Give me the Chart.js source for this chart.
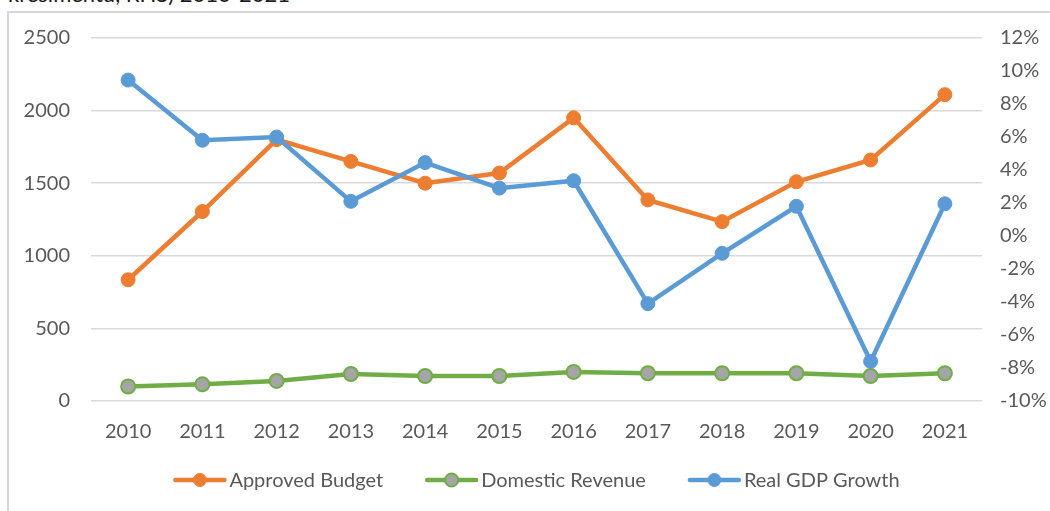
<!DOCTYPE html>
<html>
<head>
<meta charset="utf-8">
<script src="https://cdn.jsdelivr.net/npm/chart.js@4.4.0/dist/chart.umd.min.js"></script>
<style>
  html, body { margin: 0; padding: 0; background: #fff; overflow: hidden; }
  body { width: 1050px; height: 511px; position: relative; }
  .frame { position: absolute; left: 7px; top: 11px; width: 1100px; height: 600px;
           border: 2px solid #d9d9d9; box-sizing: border-box; }
  .title { position: absolute; left: 8px; top: -17px; font: 22px/22px Lato, sans-serif;
           color: #1a1a1a; white-space: nowrap; }
  canvas { position: absolute; left: 0; top: 0; }
</style>
</head>
<body>
<div class="frame"></div>
<div class="title">kresimentu, RHS) 2010-2021</div>
<canvas id="chart" width="1050" height="511"></canvas>
<script>
const years = ['2010', '2011', '2012', '2013', '2014', '2015', '2016', '2017', '2018', '2019', '2020', '2021'];
const approvedBudget = [835, 1305, 1800, 1650, 1500, 1570, 1950, 1385, 1235, 1510, 1660, 2110];
const domesticRevenue = [100, 115, 138, 186, 172, 172, 200, 191, 191, 191, 172, 191];
const realGdpGrowth = [9.45, 5.8, 6.0, 2.1, 4.45, 2.9, 3.35, -4.1, -1.05, 1.8, -7.6, 1.95];
const leftTicks = [0, 500, 1000, 1500, 2000, 2500];
const rightTicks = [-10, -8, -6, -4, -2, 0, 2, 4, 6, 8, 10, 12];

const orange = '#ED7D31';
const green = '#70AD47';
const grey = '#A5A5A5';
const blue = '#5B9BD5';
const textColor = '#595959';
const font = 'Lato, sans-serif';

// legend drawn under the axis: a line sample with a marker, then the label
const legendPlugin = {
  id: 'excelLegend',
  afterDraw(chart) {
    const ctx = chart.ctx;
    const sampleW = 53, gap = 3, spacing = 42, y = 480;
    ctx.save();
    ctx.font = '20px ' + font;
    const items = chart.data.datasets.map(ds => ({ ds, w: ctx.measureText(ds.label).width }));
    const total = items.reduce((s, it) => s + sampleW + gap + it.w, 0) + spacing * (items.length - 1);
    const area = chart.chartArea;
    let x = (area.left + area.right) / 2 - total / 2;
    items.forEach(it => {
      ctx.strokeStyle = it.ds.borderColor;
      ctx.lineWidth = 4.5;
      ctx.lineCap = 'round';
      ctx.beginPath();
      ctx.moveTo(x + 2, y);
      ctx.lineTo(x + sampleW - 2, y);
      ctx.stroke();
      ctx.beginPath();
      ctx.arc(x + sampleW / 2, y, 6.5, 0, Math.PI * 2);
      ctx.fillStyle = it.ds.pointBackgroundColor;
      ctx.fill();
      ctx.lineWidth = it.ds.pointBorderWidth;
      ctx.strokeStyle = it.ds.pointBorderColor;
      ctx.stroke();
      ctx.fillStyle = textColor;
      ctx.textBaseline = 'middle';
      ctx.fillText(it.ds.label, x + sampleW + gap, y + 1);
      x += sampleW + gap + it.w + spacing;
    });
    ctx.restore();
  }
};

new Chart(document.getElementById('chart'), {
  type: 'line',
  data: {
    labels: years,
    datasets: [
      {
        label: 'Approved Budget',
        data: approvedBudget,
        yAxisID: 'y',
        order: 1,
        borderColor: orange,
        borderWidth: 4.5,
        pointBackgroundColor: orange,
        pointBorderColor: orange,
        pointBorderWidth: 1,
        pointRadius: 7,
      },
      {
        label: 'Domestic Revenue',
        data: domesticRevenue,
        yAxisID: 'y',
        order: 2,
        borderColor: green,
        borderWidth: 4.5,
        pointBackgroundColor: grey,
        pointBorderColor: green,
        pointBorderWidth: 2,
        pointRadius: 7,
      },
      {
        label: 'Real GDP Growth',
        data: realGdpGrowth,
        yAxisID: 'y1',
        order: 0,
        borderColor: blue,
        borderWidth: 4.5,
        pointBackgroundColor: blue,
        pointBorderColor: blue,
        pointBorderWidth: 1,
        pointRadius: 7,
      },
    ],
  },
  options: {
    responsive: false,
    animation: false,
    layout: { padding: { top: 38, bottom: 55, left: 0, right: 0 } },
    plugins: { legend: { display: false }, tooltip: { enabled: false } },
    scales: {
      x: {
        offset: true,
        grid: { display: false },
        border: { display: false },
        ticks: { color: textColor, font: { family: font, size: 20 }, padding: 11, maxRotation: 0 },
        afterFit(scale) { scale.height = 55; },
      },
      y: {
        position: 'left',
        min: leftTicks[0],
        max: leftTicks[leftTicks.length - 1],
        afterBuildTicks(scale) { scale.ticks = leftTicks.map(v => ({ value: v })); },
        grid: { color: '#d9d9d9', lineWidth: 1.5, drawTicks: false },
        border: { display: false },
        ticks: { color: textColor, font: { family: font, size: 20 }, padding: 21, callback: v => String(v) },
        afterFit(scale) { scale.width = 91; },
      },
      y1: {
        position: 'right',
        min: rightTicks[0],
        max: rightTicks[rightTicks.length - 1],
        afterBuildTicks(scale) { scale.ticks = rightTicks.map(v => ({ value: v })); },
        grid: { display: false, drawTicks: false },
        border: { display: false },
        ticks: { color: textColor, font: { family: font, size: 20 }, padding: 18, callback: v => v + '%' },
        afterFit(scale) { scale.width = 68; },
      },
    },
  },
  plugins: [legendPlugin],
});
</script>
</body>
</html>
